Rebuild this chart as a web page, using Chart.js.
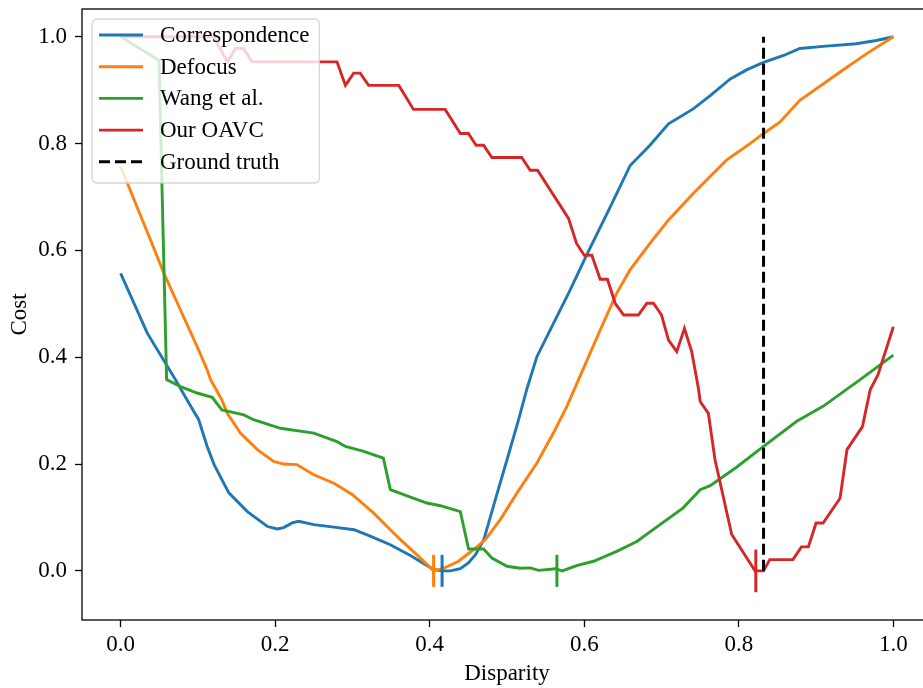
<!DOCTYPE html>
<html>
<head>
<meta charset="utf-8">
<script src="https://cdn.jsdelivr.net/npm/chart.js@4.4.1/dist/chart.umd.min.js"></script>
<style>
  html, body { margin: 0; padding: 0; background: #fff; overflow: hidden; }
  canvas { display: block; }
</style>
</head>
<body>
<canvas id="grafico_custo" width="940" height="688"></canvas>
<script>
// Curvas de custo por disparidade
let disp_corr = [0, 0.0345, 0.071, 0.086, 0.101, 0.112, 0.121, 0.140, 0.164, 0.190, 0.2026, 0.211, 0.222, 0.2305, 0.250, 0.276, 0.302, 0.323, 0.349, 0.375, 0.405, 0.416, 0.4266, 0.4396, 0.450, 0.459, 0.470, 0.4848, 0.500, 0.515, 0.526, 0.5387, 0.5516, 0.5818, 0.603, 0.6335, 0.6594, 0.685, 0.709, 0.741, 0.763, 0.789, 0.810, 0.832, 0.858, 0.879, 0.909, 0.952, 0.978, 1.0]
let custo_corr = [0.557, 0.445, 0.358, 0.320, 0.283, 0.233, 0.199, 0.146, 0.111, 0.083, 0.0785, 0.081, 0.0897, 0.0927, 0.0865, 0.082, 0.077, 0.065, 0.049, 0.0286, 0.0025, 0, 0, 0.004, 0.015, 0.030, 0.0585, 0.133, 0.208, 0.283, 0.342, 0.401, 0.4385, 0.526, 0.591, 0.681, 0.759, 0.797, 0.837, 0.865, 0.890, 0.921, 0.938, 0.952, 0.965, 0.978, 0.982, 0.987, 0.993, 1.0]

let disp_defoco = [0, 0.0216, 0.0388, 0.056, 0.0776, 0.099, 0.112, 0.1164, 0.131, 0.138, 0.155, 0.177, 0.198, 0.211, 0.228, 0.250, 0.276, 0.2996, 0.3275, 0.349, 0.362, 0.3836, 0.405, 0.418, 0.4374, 0.4568, 0.472, 0.4913, 0.513, 0.5387, 0.560, 0.5775, 0.5926, 0.6206, 0.642, 0.659, 0.685, 0.709, 0.741, 0.784, 0.8145, 0.832, 0.853, 0.879, 0.931, 0.965, 1.0]
let custo_defoco = [0.757, 0.68, 0.619, 0.557, 0.488, 0.420, 0.376, 0.358, 0.320, 0.295, 0.258, 0.227, 0.205, 0.200, 0.199, 0.180, 0.164, 0.143, 0.108, 0.077, 0.0585, 0.030, 0.0, 0.005, 0.018, 0.040, 0.0585, 0.096, 0.146, 0.202, 0.258, 0.308, 0.358, 0.451, 0.520, 0.563, 0.613, 0.657, 0.7066, 0.769, 0.800, 0.819, 0.840, 0.881, 0.934, 0.968, 1.0]

let disp_wang = [0, 0.0496, 0.0595, 0.0776, 0.099, 0.1185, 0.131, 0.1594, 0.172, 0.2068, 0.250, 0.280, 0.291, 0.3145, 0.340, 0.349, 0.375, 0.3965, 0.4137, 0.4396, 0.4503, 0.4697, 0.4805, 0.500, 0.5171, 0.530, 0.541, 0.5628, 0.5714, 0.590, 0.612, 0.642, 0.668, 0.698, 0.728, 0.750, 0.763, 0.797, 0.832, 0.875, 0.909, 0.957, 1.0]
let custo_wang = [1.0, 0.956, 0.358, 0.345, 0.333, 0.325, 0.3015, 0.292, 0.283, 0.267, 0.258, 0.242, 0.233, 0.2236, 0.211, 0.152, 0.138, 0.127, 0.122, 0.111, 0.041, 0.041, 0.024, 0.0086, 0.005, 0.0056, 0.001, 0.004, 0.0, 0.010, 0.018, 0.0366, 0.055, 0.0865, 0.118, 0.152, 0.1595, 0.194, 0.233, 0.280, 0.308, 0.358, 0.404]

let disp_oavc = [0, 0.1206, 0.138, 0.1487, 0.159, 0.170, 0.280, 0.2909, 0.3016, 0.310, 0.321, 0.360, 0.379, 0.420, 0.4396, 0.450, 0.460, 0.4697, 0.4805, 0.519, 0.530, 0.5395, 0.5796, 0.590, 0.600, 0.6098, 0.6206, 0.630, 0.640, 0.651, 0.670, 0.681, 0.6895, 0.700, 0.709, 0.7197, 0.7296, 0.739, 0.7477, 0.750, 0.7606, 0.7692, 0.7908, 0.821, 0.832, 0.840, 0.870, 0.881, 0.890, 0.900, 0.909, 0.931, 0.940, 0.960, 0.970, 0.980, 1.0]
let custo_oavc = [1.0, 1.0, 0.953, 0.978, 0.978, 0.953, 0.953, 0.909, 0.932, 0.932, 0.909, 0.909, 0.864, 0.864, 0.819, 0.819, 0.797, 0.797, 0.774, 0.774, 0.750, 0.750, 0.660, 0.613, 0.591, 0.591, 0.546, 0.546, 0.501, 0.479, 0.479, 0.501, 0.501, 0.479, 0.432, 0.4105, 0.454, 0.4105, 0.342, 0.317, 0.295, 0.208, 0.068, 0.0, 0.0, 0.021, 0.021, 0.045, 0.045, 0.0897, 0.0897, 0.136, 0.227, 0.270, 0.339, 0.367, 0.457]

// Verdade de campo (linha vertical tracejada)
let disp_verdade = 0.832
let custo_verdade = [0, 1]

// Marcas dos mínimos: posição e meia altura de cada traço
let disp_minimos = [0.416, 0.405, 0.5646, 0.822]
let meia_altura_minimos = [0.03, 0.03, 0.03, 0.04]

let nomes = ['Correspondence', 'Defocus', 'Wang et al.', 'Our OAVC', 'Ground truth']
let marcasX = [0, 0.2, 0.4, 0.6, 0.8, 1.0]
let marcasY = [0, 0.2, 0.4, 0.6, 0.8, 1.0]

let azul = '#1f77b4'
let laranja = '#ff7f0e'
let verde = '#2ca02c'
let vermelho = '#d62728'
let cores = [azul, laranja, verde, vermelho]
let fonte = 'Liberation Serif'

function pontos(xs, ys) {
  return xs.map((x, i) => ({ x: x, y: ys[i] }))
}

let curvas = [
  pontos(disp_corr, custo_corr),
  pontos(disp_defoco, custo_defoco),
  pontos(disp_wang, custo_wang),
  pontos(disp_oavc, custo_oavc)
]

let datasets = []
curvas.forEach((c, i) => {
  datasets.push({
    label: nomes[i],
    data: c,
    borderColor: cores[i],
    borderWidth: 2.9,
    order: 20 - i // a última desenhada fica por cima
  })
})
datasets.push({
  label: nomes[4],
  data: custo_verdade.map(y => ({ x: disp_verdade, y: y })),
  borderColor: '#000',
  borderWidth: 3,
  borderDash: [11, 5],
  order: 15
})
disp_minimos.forEach((x, i) => {
  let h = meia_altura_minimos[i]
  datasets.push({
    data: [{ x: x, y: -h }, { x: x, y: h }],
    borderColor: cores[i],
    borderWidth: 3,
    order: 10 - i
  })
})

// Moldura dos eixos (os quatro lados)
const moldura = {
  id: 'moldura',
  afterDatasetsDraw(chart) {
    const { ctx, chartArea: a } = chart
    ctx.save()
    ctx.strokeStyle = '#000'
    ctx.lineWidth = 1.3
    ctx.strokeRect(a.left, a.top, a.right - a.left, a.bottom - a.top)
    ctx.restore()
  }
}

// Legenda dentro da área do gráfico, com fundo branco translúcido
const legendaBox = {
  id: 'legendaBox',
  afterDatasetsDraw(chart) {
    const { ctx, chartArea: a } = chart
    const itens = chart.data.datasets.filter(d => d.label)
    ctx.save()
    ctx.font = '23px "' + fonte + '"'
    let larguraTexto = Math.max(...itens.map(d => ctx.measureText(d.label).width))
    let x0 = a.left + 10, y0 = a.top + 10
    let w = 68 + larguraTexto + 10
    let h = 164
    ctx.beginPath()
    ctx.roundRect(x0, y0, w, h, 5)
    ctx.fillStyle = 'rgba(255,255,255,0.8)'
    ctx.fill()
    ctx.strokeStyle = 'rgba(204,204,204,0.8)'
    ctx.lineWidth = 1.3
    ctx.stroke()
    itens.forEach((d, i) => {
      let y = y0 + 16 + i * 31.7
      ctx.beginPath()
      ctx.setLineDash(d.borderDash || [])
      ctx.strokeStyle = d.borderColor
      ctx.lineWidth = d.borderWidth
      ctx.moveTo(x0 + 7, y)
      ctx.lineTo(x0 + 51, y)
      ctx.stroke()
      ctx.setLineDash([])
      ctx.fillStyle = '#000'
      ctx.textBaseline = 'middle'
      ctx.fillText(d.label, x0 + 68, y + 1)
    })
    ctx.restore()
  }
}

// Sem folga extra das escalas: a área do gráfico fica só com o padding do layout
function semFolga(s) {
  s.paddingTop = 0
  s.paddingBottom = 0
  s.paddingLeft = 0
  s.paddingRight = 0
}

const c_grafico = document.getElementById('grafico_custo').getContext('2d')
new Chart(c_grafico, {
  type: 'line',
  data: { datasets: datasets },
  options: {
    responsive: false,
    animation: false,
    devicePixelRatio: 1,
    layout: { padding: { top: 9, right: 8, left: 0, bottom: 0 } },
    elements: {
      point: { radius: 0, hoverRadius: 0 },
      line: { tension: 0, fill: false, borderCapStyle: 'butt' }
    },
    scales: {
      x: {
        type: 'linear',
        min: -0.05,
        max: 1.05,
        afterBuildTicks: s => { s.ticks = marcasX.map(v => ({ value: v })) },
        afterFit: s => { s.height = 68; semFolga(s) },
        ticks: {
          color: '#000',
          font: { family: fonte, size: 23 },
          padding: 4,
          maxRotation: 0,
          autoSkip: false,
          callback: v => v.toFixed(1)
        },
        grid: { drawOnChartArea: false, tickLength: 7, tickColor: '#000', tickWidth: 1.3 },
        border: { display: false },
        title: {
          display: true,
          text: 'Disparity',
          color: '#000',
          font: { family: fonte, size: 23 },
          padding: { top: 0, bottom: 0 }
        }
      },
      y: {
        type: 'linear',
        min: -0.092,
        max: 1.052,
        afterBuildTicks: s => { s.ticks = marcasY.map(v => ({ value: v })) },
        afterFit: s => { s.width = 82; semFolga(s) },
        ticks: {
          color: '#000',
          font: { family: fonte, size: 23 },
          padding: 8,
          autoSkip: false,
          callback: v => v.toFixed(1)
        },
        grid: { drawOnChartArea: false, tickLength: 7, tickColor: '#000', tickWidth: 1.3 },
        border: { display: false },
        title: {
          display: true,
          text: 'Cost',
          color: '#000',
          font: { family: fonte, size: 23 },
          padding: { top: 6, bottom: 0 }
        }
      }
    },
    plugins: {
      legend: { display: false },
      tooltip: { enabled: false }
    }
  },
  plugins: [moldura, legendaBox]
})
</script>
</body>
</html>
